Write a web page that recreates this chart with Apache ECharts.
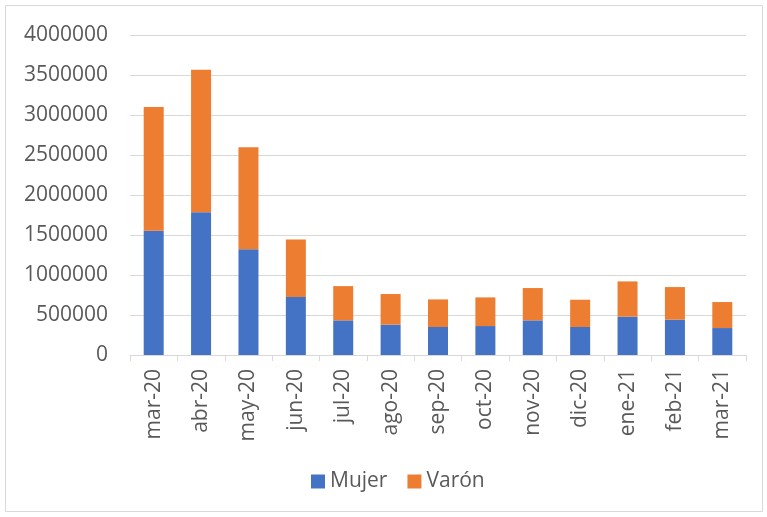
<!DOCTYPE html>
<html>
<head>
<meta charset="utf-8">
<script src="https://cdn.jsdelivr.net/npm/echarts@6/dist/echarts.min.js"></script>
<style>
  html, body { margin: 0; padding: 0; background: #fff; }
  #main { width: 767px; height: 517px; }
</style>
</head>
<body>
<div id="main"></div>
<script>
// meses
const months = ['mar-20', 'abr-20', 'may-20', 'jun-20', 'jul-20', 'ago-20', 'sep-20',
  'oct-20', 'nov-20', 'dic-20', 'ene-21', 'feb-21', 'mar-21'];
// valores
const mujer = [1553000, 1785000, 1323000, 724000, 433000, 380000, 350000,
  362000, 433000, 350000, 479000, 442000, 337000];
const total = [3100000, 3567000, 2597000, 1444000, 861000, 762000, 695000,
  720000, 837000, 691000, 920000, 849000, 662000];
const varon = total.map((t, i) => t - mujer[i]);
const yTicks = [0, 500000, 1000000, 1500000, 2000000, 2500000, 3000000, 3500000, 4000000];

const txt = '#595959';
const font = 'Open Sans';

const myChart = echarts.init(document.getElementById('main'));
myChart.setOption({
  animation : false,
  textStyle : { fontFamily: font },
  graphic   : [{
    type  : 'rect',
    shape : { x: 5.5, y: 5.5, width: 757, height: 506 },
    style : { fill: 'none', stroke: '#d9d9d9', lineWidth: 1 },
  }],
  grid: {
    left: 130, right: 21, top: 35, bottom: 162,
  },
  legend: {
    bottom     : 20,
    left       : 306,
    itemWidth  : 14,
    itemHeight : 14,
    itemGap    : 20,
    icon       : 'rect',
    textStyle  : { color: txt, fontSize: 21, fontFamily: font },
    data       : ['Mujer', 'Varón'],
  },
  xAxis: {
    type      : 'category',
    data      : months,
    axisLine  : { lineStyle: { color: '#d9d9d9', width: 1 } },
    axisTick  : { show: true, length: 6, lineStyle: { color: '#d9d9d9' } },
    axisLabel : { rotate: 90, color: txt, fontSize: 21, margin: 14 },
  },
  yAxis: {
    type      : 'value',
    min       : yTicks[0],
    max       : yTicks[yTicks.length - 1],
    interval  : 500000,
    axisLine  : { show: false },
    axisTick  : { show: false },
    splitLine : { lineStyle: { color: '#d9d9d9', width: 1 } },
    axisLabel : {
      color     : txt,
      fontSize  : 21,
      margin    : 22,
      formatter : v => String(v),
    },
  },
  series: [{
    name      : 'Mujer',
    type      : 'bar',
    stack     : 'total',
    barWidth  : 20,
    itemStyle : { color: '#4472C4' },
    data      : mujer,
  }, {
    name      : 'Varón',
    type      : 'bar',
    stack     : 'total',
    barWidth  : 20,
    itemStyle : { color: '#ED7D31' },
    data      : varon,
  }],
});
</script>
</body>
</html>
